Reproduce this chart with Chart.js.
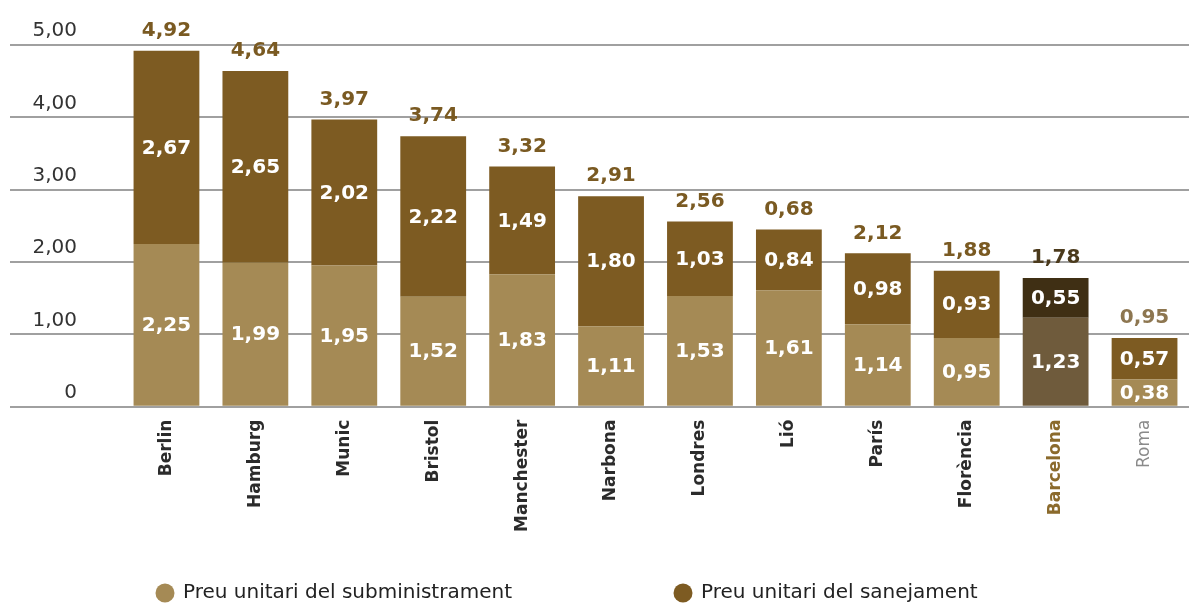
<!DOCTYPE html>
<html>
<head>
<meta charset="utf-8">
<script src="https://cdn.jsdelivr.net/npm/chart.js@4.4.1/dist/chart.umd.min.js"></script>
<style>
  html, body { margin: 0; padding: 0; background: #fff; }
  #wrap { width: 1203px; height: 607px; }
</style>
</head>
<body>
<div id="wrap"><canvas id="priceChart" width="1203" height="607"></canvas></div>
<script>
const cities = ['Berlin', 'Hamburg', 'Munic', 'Bristol', 'Manchester', 'Narbona', 'Londres', 'Lió', 'París', 'Florència', 'Barcelona', 'Roma'];
const supplyPrice = [2.25, 1.99, 1.95, 1.52, 1.83, 1.11, 1.53, 1.61, 1.14, 0.95, 1.23, 0.38];
const sanitationPrice = [2.67, 2.65, 2.02, 2.22, 1.49, 1.80, 1.03, 0.84, 0.98, 0.93, 0.55, 0.57];
// totals as printed on the original (Lió shows 0,68)
const totalLabels = ['4,92', '4,64', '3,97', '3,74', '3,32', '2,91', '2,56', '0,68', '2,12', '1,88', '1,78', '0,95'];
const yTickLabels = ['0', '1,00', '2,00', '3,00', '4,00', '5,00'];
const seriesNames = ['Preu unitari del subministrament', 'Preu unitari del sanejament'];

const LIGHT = '#a58a55', DARK = '#7d5b22';
const fmt = v => v.toFixed(2).replace('.', ',');

const barLabels = {
  id: 'barLabels',
  afterDatasetsDraw(chart) {
    const ctx = chart.ctx;
    ctx.save();
    ctx.textAlign = 'center';
    ctx.textBaseline = 'middle';
    ctx.font = 'bold 20px "DejaVu Sans"';
    ctx.fillStyle = '#fff';
    chart.data.datasets.forEach((ds, di) => {
      chart.getDatasetMeta(di).data.forEach((bar, i) => {
        ctx.fillText(fmt(ds.data[i]), bar.x, (bar.y + bar.base) / 2 + 1);
      });
    });
    chart.getDatasetMeta(1).data.forEach((bar, i) => {
      ctx.fillStyle = i === 10 ? '#4b3a1c' : (i === 11 ? '#8d7650' : '#7a5a22');
      ctx.fillText(totalLabels[i], bar.x, bar.y - 20);
    });
    ctx.restore();
  }
};

const customLegend = {
  id: 'customLegend',
  afterDraw(chart) {
    const ctx = chart.ctx;
    const spots = [165, 683];
    ctx.save();
    ctx.font = '20px "DejaVu Sans"';
    ctx.textBaseline = 'middle';
    chart.data.datasets.forEach((ds, di) => {
      ctx.fillStyle = di === 0 ? LIGHT : DARK;
      ctx.beginPath();
      ctx.arc(spots[di], 593, 9.5, 0, Math.PI * 2);
      ctx.fill();
      ctx.fillStyle = '#222';
      ctx.fillText(ds.label, spots[di] + 18, 593);
    });
    ctx.restore();
  }
};

new Chart(document.getElementById('priceChart'), {
  type: 'bar',
  data: {
    labels: cities,
    datasets: [{
      label: seriesNames[0],
      data: supplyPrice,
      backgroundColor: c => c.dataIndex === 10 ? '#6f5b3c' : LIGHT
    }, {
      label: seriesNames[1],
      data: sanitationPrice,
      backgroundColor: c => c.dataIndex === 10 ? '#3f2f14' : DARK
    }]
  },
  options: {
    responsive: false,
    animation: false,
    layout: { padding: { top: 45, right: 14, bottom: 62, left: 0 } },
    datasets: { bar: { categoryPercentage: 1, barPercentage: 0.74, borderWidth: 0 } },
    plugins: { legend: { display: false }, tooltip: { enabled: false } },
    scales: {
      x: {
        stacked: true,
        grid: { display: false, drawTicks: false },
        border: { display: false },
        ticks: {
          autoSkip: false,
          minRotation: 90,
          maxRotation: 90,
          padding: 13,
          color: c => c.index === 10 ? '#8b6a2c' : (c.index === 11 ? '#8a8a8a' : '#2b2b2b'),
          font: c => ({ family: 'DejaVu Sans', size: 17, weight: c.index === 11 ? 'normal' : 'bold' })
        }
      },
      y: {
        stacked: true,
        min: 0,
        max: 5,
        afterFit: s => { s.width = 122; },
        grid: { color: '#a0a0a0', lineWidth: 2, tickLength: 112 },
        border: { display: false },
        ticks: {
          stepSize: 1,
          padding: -67,
          labelOffset: -14,
          color: '#333',
          font: { family: 'DejaVu Sans', size: 20 },
          callback: (v, i) => yTickLabels[i]
        }
      }
    }
  },
  plugins: [barLabels, customLegend]
});
</script>
</body>
</html>
